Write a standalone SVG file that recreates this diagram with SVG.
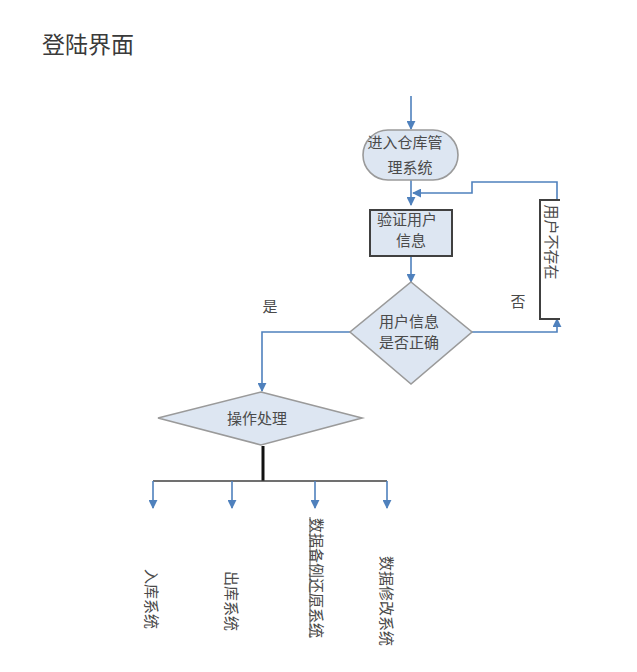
<svg xmlns="http://www.w3.org/2000/svg" width="637" height="672" viewBox="0 0 637 672">
  <style>
    .t { font-family: "Noto Sans CJK SC", "Noto Sans", sans-serif; fill: #4a4a4a; font-size: 15px; text-anchor: middle; dominant-baseline: central; }
    .title { font-family: "Noto Sans CJK SC", "Noto Sans", sans-serif; fill: #3a3a3a; font-size: 23px; }
    .flow { fill: none; stroke: #4f81bd; stroke-width: 1.6; }
    .shape { fill: #dde6f2; stroke: #9a9a9a; stroke-width: 1.6; }
    .box { fill: #dde6f2; stroke: #404040; stroke-width: 2; }
    .tree { fill: none; stroke: #404040; stroke-width: 1.6; }
    .stem { fill: none; stroke: #111111; stroke-width: 3; }
  </style>
  <defs>
    <marker id="arr" viewBox="0 0 10 10" refX="9" refY="5" markerWidth="9" markerHeight="9" markerUnits="userSpaceOnUse" orient="auto">
      <path d="M0,0 L10,5 L0,10 z" fill="#4f81bd"/>
    </marker>
  </defs>

  <rect width="637" height="672" fill="#ffffff"/>

  <text class="title" x="42" y="53">登陆界面</text>

  <!-- connectors -->
  <g id="connectors">
    <path class="flow" d="M411,96 V129" marker-end="url(#arr)"/>
    <path class="flow" d="M411,180 V205" marker-end="url(#arr)"/>
    <path class="flow" d="M557,200 V182 H472 V193 H413" marker-end="url(#arr)"/>
    <path class="flow" d="M411,256 V282" marker-end="url(#arr)"/>
    <path class="flow" d="M472,332 H557 V319" marker-end="url(#arr)"/>
    <path class="flow" d="M350,332 H262 V391" marker-end="url(#arr)"/>
    <path class="stem" d="M263,446 V481"/>
    <path class="tree" d="M153,481 H387"/>
    <path class="flow" d="M153,481 V508" marker-end="url(#arr)"/>
    <path class="flow" d="M232,481 V508" marker-end="url(#arr)"/>
    <path class="flow" d="M315,481 V508" marker-end="url(#arr)"/>
    <path class="flow" d="M387,481 V508" marker-end="url(#arr)"/>
    <text class="t" x="270" y="305">是</text>
    <text class="t" x="518" y="300">否</text>
  </g>

  <g id="start">
    <rect class="shape" x="363" y="130" width="95" height="50" rx="25" ry="25"/>
    <text class="t" x="405" y="141">进入仓库管</text>
    <text class="t" x="410" y="166">理系统</text>
  </g>

  <g id="verify">
    <rect class="box" x="370" y="210" width="82" height="46"/>
    <text class="t" x="407" y="218">验证用户</text>
    <text class="t" x="411" y="239">信息</text>
  </g>

  <g id="check">
    <polygon class="shape" points="411,282 472,332 411,384 350,332"/>
    <text class="t" x="409" y="320">用户信息</text>
    <text class="t" x="409" y="341">是否正确</text>
  </g>

  <g id="nouser">
    <path class="box" d="M560,200 H540 V319 H560" style="fill:none"/>
    <text class="t" transform="translate(552,242) rotate(90)">用户不存在</text>
  </g>

  <g id="operate">
    <polygon class="shape" points="261,392 362,418 261,445 158,418"/>
    <text class="t" x="257" y="417">操作处理</text>
  </g>

  <g id="inbound">
    <text class="t" transform="translate(152,599) rotate(90)">入库系统</text>
  </g>
  <g id="outbound">
    <text class="t" transform="translate(232,601) rotate(90)">出库系统</text>
  </g>
  <g id="backup">
    <text class="t" transform="translate(317,578) rotate(90)">数据备例还原系统</text>
    <line x1="310" y1="517" x2="310" y2="638" stroke="#555" stroke-width="1"/>
  </g>
  <g id="modify">
    <text class="t" transform="translate(387,601) rotate(90)">数据修改系统</text>
  </g>
</svg>
